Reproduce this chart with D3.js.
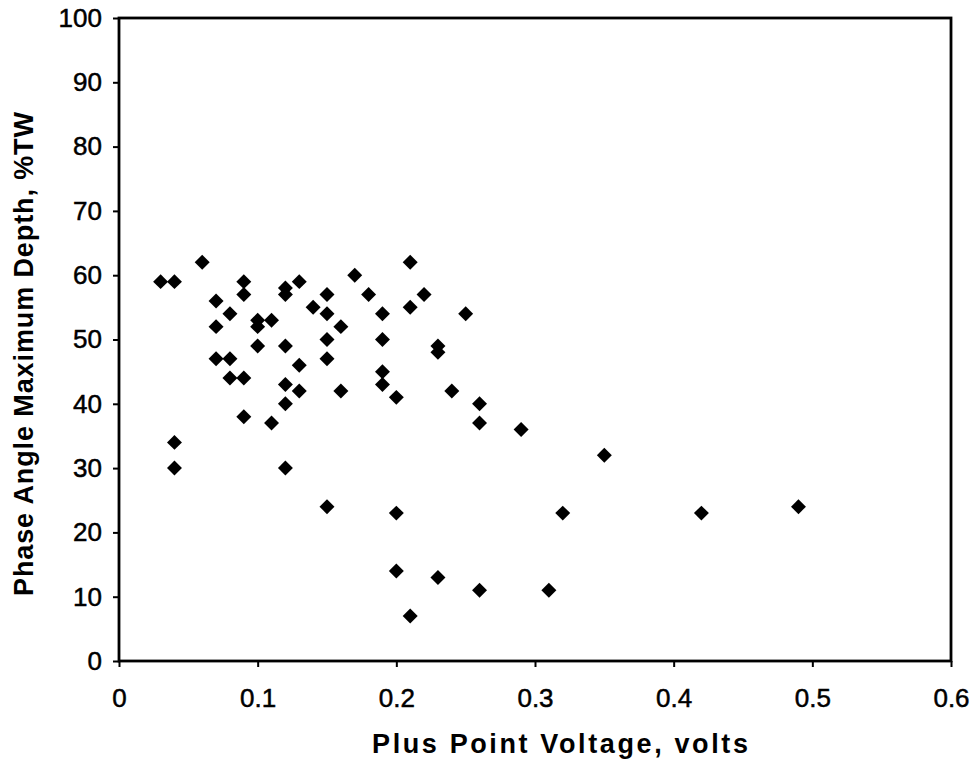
<!DOCTYPE html>
<html>
<head>
<meta charset="utf-8">
<script src="https://cdn.jsdelivr.net/npm/d3@7"></script>
<style>
  body { margin: 0; background: #fff; }
  svg { display: block; }
</style>
</head>
<body>
<div id="chart"></div>
<script>
// Plus Point voltage (volts) and phase angle max depth (%TW)
const voltage = [
  0.03, 0.04, 0.04, 0.04, 0.06, 0.07, 0.07, 0.07, 0.08, 0.08,
  0.08, 0.09, 0.09, 0.09, 0.09, 0.10, 0.10, 0.10, 0.11, 0.11,
  0.12, 0.12, 0.12, 0.12, 0.12, 0.12, 0.13, 0.13, 0.13, 0.14,
  0.15, 0.15, 0.15, 0.15, 0.15, 0.16, 0.16, 0.17, 0.18, 0.19,
  0.19, 0.19, 0.19, 0.20, 0.20, 0.20, 0.21, 0.21, 0.21, 0.22,
  0.23, 0.23, 0.23, 0.24, 0.25, 0.26, 0.26, 0.26, 0.29, 0.31,
  0.32, 0.35, 0.42, 0.49
];
const depth = [
  59, 59, 34, 30, 62, 56, 52, 47, 54, 47,
  44, 59, 57, 44, 38, 53, 52, 49, 53, 37,
  58, 57, 49, 43, 40, 30, 59, 46, 42, 55,
  57, 54, 50, 47, 24, 52, 42, 60, 57, 54,
  50, 45, 43, 41, 23, 14, 62, 55, 7, 57,
  49, 48, 13, 42, 54, 40, 37, 11, 36, 11,
  23, 32, 23, 24
];
const xTicks = [0, 0.1, 0.2, 0.3, 0.4, 0.5, 0.6];
const yTicks = [0, 10, 20, 30, 40, 50, 60, 70, 80, 90, 100];
const xTitle = 'Plus Point Voltage, volts';
const yTitle = 'Phase Angle Maximum Depth, %TW';

const data = voltage.map((v, i) => ({x: v, y: depth[i]}));

const width = 977;
const height = 766;
const margin = {top: 18, right: 26, bottom: 105, left: 119};
const font = 'Arial, "Liberation Sans", sans-serif';

const svg = d3.select('#chart')
  .append('svg')
    .attr('width', width)
    .attr('height', height)
    .attr('viewBox', [0, 0, width, height]);

const x = d3.scaleLinear()
  .domain([0, 0.6])
  .range([margin.left, width - margin.right]);

const y = d3.scaleLinear()
  .domain([0, 100])
  .range([height - margin.bottom, margin.top]);

// plot frame
svg.append('rect')
  .attr('x', x(0))
  .attr('y', y(100))
  .attr('width', x(0.6) - x(0))
  .attr('height', y(0) - y(100))
  .attr('fill', 'none')
  .attr('stroke', '#000')
  .attr('stroke-width', 2.8);

// axes
const xAxis = svg.append('g')
  .attr('transform', `translate(0, ${y(0)})`)
  .call(d3.axisBottom(x).tickValues(xTicks).tickSize(6).tickPadding(22)
    .tickFormat(d => d === 0 ? '0' : d3.format('.1f')(d)));

const yAxis = svg.append('g')
  .attr('transform', `translate(${x(0)}, 0)`)
  .call(d3.axisLeft(y).tickValues(yTicks).tickSize(6).tickPadding(11));

[xAxis, yAxis].forEach(g => {
  g.select('.domain').remove();
  g.selectAll('.tick line').attr('stroke', '#000').attr('stroke-width', 2);
  g.selectAll('.tick text')
    .attr('fill', '#000')
    .attr('stroke', '#000')
    .attr('stroke-width', 0.5)
    .style('font-family', font)
    .style('font-size', '26px');
});

// diamonds
svg.append('g')
  .attr('class', 'points')
  .selectAll('path')
  .data(data)
  .join('path')
    .attr('d', d3.symbol(d3.symbolSquare, 112))
    .attr('transform', d => `translate(${x(d.x)}, ${y(d.y)}) rotate(45)`)
    .attr('fill', '#000');

// axis titles
svg.append('text')
  .attr('x', (x(0) + x(0.6)) / 2 + 25)
  .attr('y', 753)
  .attr('text-anchor', 'middle')
  .attr('textLength', 376)
  .attr('lengthAdjust', 'spacing')
  .style('font-family', font)
  .style('font-size', '27px')
  .style('font-weight', 700)
  .text(xTitle);

svg.append('text')
  .attr('transform', 'translate(33, 354) rotate(-90)')
  .attr('text-anchor', 'middle')
  .attr('textLength', 484)
  .attr('lengthAdjust', 'spacing')
  .style('font-family', font)
  .style('font-size', '27px')
  .style('font-weight', 700)
  .text(yTitle);
</script>
</body>
</html>
